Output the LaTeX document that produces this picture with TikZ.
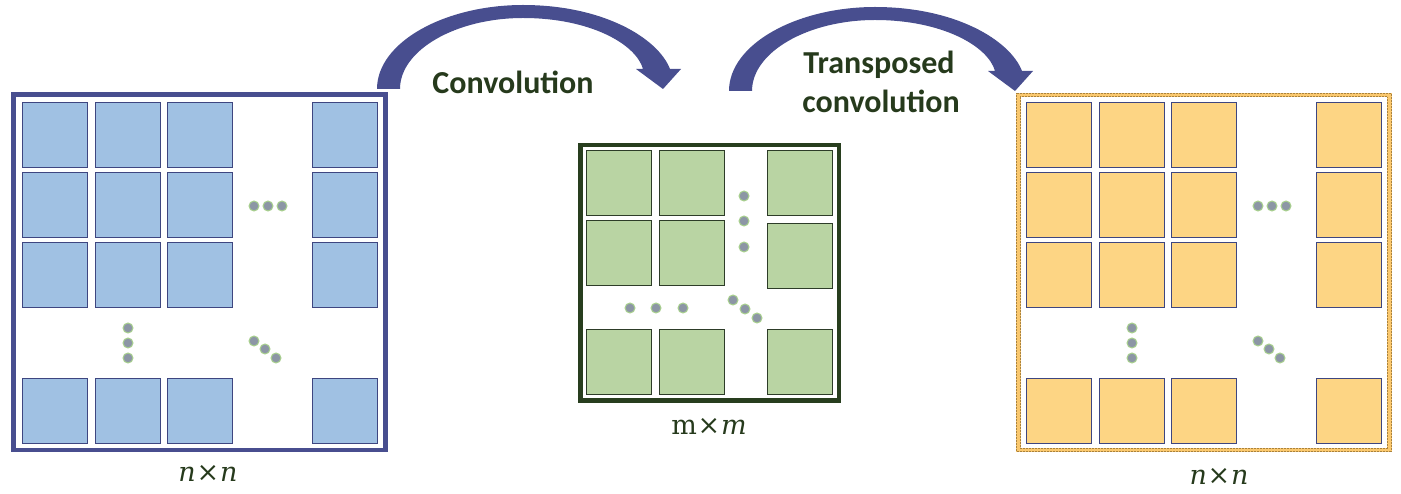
\documentclass[tikz,border=0pt]{standalone}
\usepackage{fontspec}
\newfontfamily\carlito{Carlito}
\newfontfamily\dimfont{DejaVu Serif}
\definecolor{arrowblue}{RGB}{72,78,143}
\definecolor{sqblue}{RGB}{160,193,227}
\definecolor{sqgreen}{RGB}{185,212,163}
\definecolor{sqyellow}{RGB}{253,213,132}
\definecolor{edgeblue}{RGB}{62,70,128}
\definecolor{edgegreen}{RGB}{45,60,40}
\definecolor{framegreen}{RGB}{40,62,30}
\definecolor{frameorange}{RGB}{250,200,110}
\definecolor{framedots}{RGB}{170,130,60}
\definecolor{dotfill}{RGB}{140,150,165}
\definecolor{dotedge}{RGB}{169,209,142}
\definecolor{textgreen}{RGB}{38,58,28}
\newcommand{\timesop}{\hspace{0.03em}×\hspace{0.03em}}
\begin{document}
\begin{tikzpicture}[x=1pt,y=-1pt,
  cell/.style={draw, line width=1pt, minimum width=65pt, minimum height=65pt, inner sep=0pt, outer sep=0pt},
  bcell/.style={cell, fill=sqblue, draw=edgeblue},
  gcell/.style={cell, fill=sqgreen, draw=edgegreen},
  ycell/.style={cell, fill=sqyellow, draw=edgeblue},
  dotnode/.style={circle, fill=dotfill, draw=dotedge, line width=1pt, minimum size=10pt, inner sep=0pt},
  frame/.style={draw, line width=4.5pt, inner sep=0pt},
  title/.style={font=\carlito\bfseries\fontsize{32}{39}\selectfont, text=textgreen, anchor=base, inner sep=0pt},
  dims/.style={font=\dimfont\fontsize{27}{32}\selectfont, text=textgreen, anchor=base, inner sep=0pt},
  bigarrow/.style={fill=arrowblue}
]
\useasboundingbox (0,0) rectangle (1401,494);

% frames
\node[frame, draw=arrowblue, minimum width=372pt, minimum height=355.5pt] (inframe) at (199.5,272.25) {};
\node[frame, draw=framegreen, minimum width=258.5pt, minimum height=255.5pt] (midframe) at (709.75,272.75) {};
\node[frame, draw=frameorange, minimum width=371pt, minimum height=355pt] (outframe) at (1204,272.5) {};
\draw[framedots, line width=0.6pt, dash pattern=on 0.6pt off 0.9pt] (1016.6,93.3) rectangle (1391.4,451.7);
\draw[framedots, line width=0.6pt, dash pattern=on 0.6pt off 0.9pt] (1020.4,96.7) rectangle (1387.6,448.3);

% input n x n grid
\foreach \c/\x in {1/54.8,2/127.7,3/199.5,4/345.2}
  \foreach \r/\y in {1/135,2/204.8,3/275.3,4/411.2}
    \node[bcell] (L-\r-\c) at (\x,\y) {};
% output n x n grid
\foreach \c/\x in {1/1059.2,2/1131.7,3/1203.7,4/1349.3}
  \foreach \r/\y in {1/135,2/205,3/275.3,4/410.8}
    \node[ycell] (R-\r-\c) at (\x,\y) {};
% middle m x m grid
\foreach \c/\x in {1/619.2,2/692.3}
  \foreach \r/\y in {1/183.3,2/253.2,3/362.2}
    \node[gcell] (M-\r-\c) at (\x,\y) {};
\node[gcell] (M-1-3) at (799.7,183.3) {};
\node[gcell] (M-2-3) at (799.7,256) {};
\node[gcell] (M-3-3) at (799.7,362.2) {};

% dots, input
\foreach \i/\x in {1/254,2/268,3/282} \node[dotnode] (Lh\i) at (\x,206) {};
\foreach \i/\y in {1/328,2/343,3/358} \node[dotnode] (Lv\i) at (128,\y) {};
\foreach \i/\x/\y in {1/254/341,2/265/349,3/276/358} \node[dotnode] (Ld\i) at (\x,\y) {};
% dots, middle
\foreach \i/\y in {1/196,2/221,3/247} \node[dotnode] (Mv\i) at (744,\y) {};
\foreach \i/\x in {1/630,2/656,3/683} \node[dotnode] (Mh\i) at (\x,308) {};
\foreach \i/\x/\y in {1/733/300,2/745/309,3/757/318} \node[dotnode] (Md\i) at (\x,\y) {};
% dots, output
\foreach \i/\x in {1/1258,2/1272,3/1286} \node[dotnode] (Rh\i) at (\x,206) {};
\foreach \i/\y in {1/328,2/343,3/358} \node[dotnode] (Rv\i) at (1132,\y) {};
\foreach \i/\x/\y in {1/1258/341,2/1269/349,3/1280/358} \node[dotnode] (Rd\i) at (\x,\y) {};

% curved block arrows
\fill[bigarrow] (377,89) .. controls (377,42) and (445,5) .. (523,5)
  .. controls (603,5) and (658,38) .. (670,69) -- (681,69) -- (663,89) -- (636,69) -- (643,69)
  .. controls (636,44) and (590,18) .. (523,18)
  .. controls (456,18) and (400,50) .. (400,89) -- cycle;
\begin{scope}[shift={(352,2)}]
\fill[bigarrow] (377,89) .. controls (377,42) and (445,5) .. (523,5)
  .. controls (603,5) and (658,38) .. (670,69) -- (681,69) -- (663,89) -- (636,69) -- (643,69)
  .. controls (636,44) and (590,18) .. (523,18)
  .. controls (456,18) and (400,50) .. (400,89) -- cycle;
\end{scope}

% texts
\node[title] (conv) at (513,94) {Convolution};
\node[title] (tconvA) at (879,74) {Transposed};
\node[title] (tconvB) at (881,113) {convolution};
\node[dims] (inlabel) at (208,481) {\textit{n}\timesop\textit{n}};
\node[dims] (midlabel) at (709,435) {m\timesop\textit{m}};
\node[dims] (outlabel) at (1219,484) {\textit{n}\timesop\textit{n}};
\end{tikzpicture}
\end{document}
